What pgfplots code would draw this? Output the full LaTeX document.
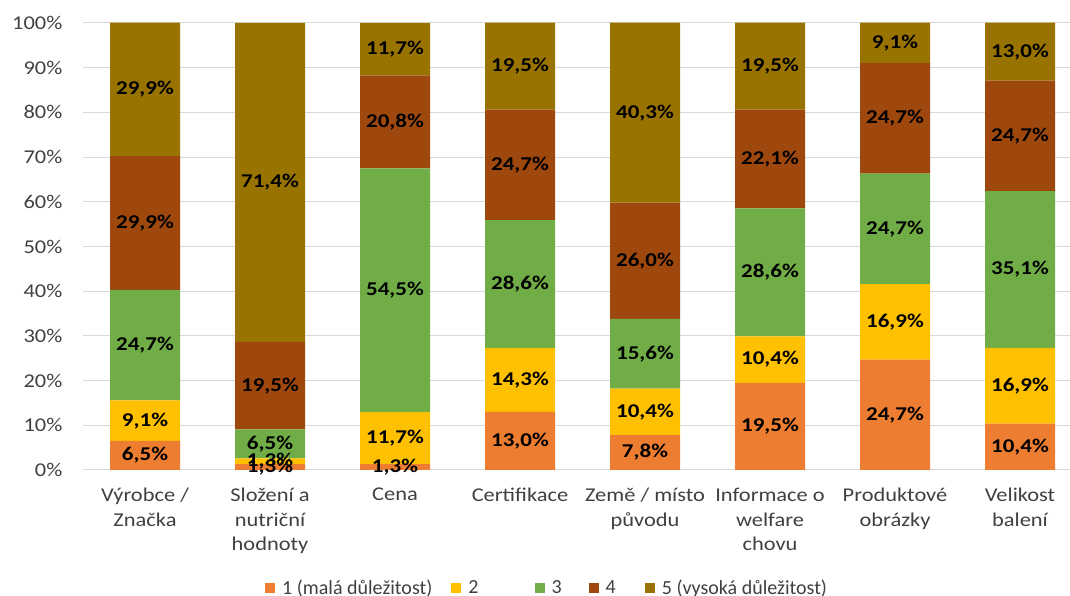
\documentclass[border=0pt]{standalone}
\usepackage{pgfplots}
\pgfplotsset{compat=1.18}
\usepackage{pgfplotstable}
\usepackage{fontspec}
\setmainfont{Carlito}[FakeStretch=1.15]
\newfontfamily\labfont{Carlito}[FakeStretch=1.18]
\newfontfamily\legfont{Carlito}
\definecolor{c1}{HTML}{ED7D31}
\definecolor{c2}{HTML}{FFC000}
\definecolor{c3}{HTML}{70AD47}
\definecolor{c4}{HTML}{9E480E}
\definecolor{c5}{HTML}{997300}
\definecolor{gridgray}{HTML}{D9D9D9}
\definecolor{tickgray}{HTML}{404040}
\newcommand\chartfont{\fontsize{19.5}{24.5}\selectfont}
\pgfplotstableread{
x a b c d e
0 6.5 9.1 24.7 29.9 29.9
1 1.3 1.3 6.5 19.5 71.4
2 1.3 11.7 54.5 20.8 11.7
3 13.0 14.3 28.6 24.7 19.5
4 7.8 10.4 15.6 26.0 40.3
5 19.5 10.4 28.6 22.1 19.5
6 24.7 16.9 24.7 24.7 9.1
7 10.4 16.9 35.1 24.7 13.0
}\data
\begin{document}
\begin{tikzpicture}
\begin{axis}[
  at={(82.5pt,126pt)}, anchor=south west,
  x=125pt, y=4.47pt,
  xmin=-0.5, xmax=7.5,
  ymin=0, ymax=100.15,
  ybar stacked, bar width=70pt,
  axis line style={draw=none},
  ymajorgrids, grid style={draw=gridgray, line width=1pt},
  major tick length=0pt,
  ytick={0,10,...,100},
  yticklabels={0\%,10\%,20\%,30\%,40\%,50\%,60\%,70\%,80\%,90\%,100\%},
  yticklabel style={font=\chartfont, text=tickgray, anchor=east, inner sep=0pt, xshift=-20pt},
  xtick={0,...,7},
  xticklabels={{Výrobce /\\Značka},{Složení a\\nutriční\\hodnoty},{Cena},{Certifikace},{Země / místo\\původu},{Informace o\\welfare\\chovu},{Produktové\\obrázky},{Velikost\\balení}},
  xticklabel style={font=\chartfont, text=tickgray, align=center, anchor=north, inner sep=0pt, yshift=-18pt},
  /pgf/number format/assume math mode=true,
  lab/.style={visualization depends on={\thisrow{#1}\as\val}},
  nodes near coords={\pgfmathprintnumber[fixed,fixed zerofill,precision=1,use comma]{\val}\%},
  every node near coord/.append style={font=\labfont\chartfont\bfseries, text=black, anchor=center, inner sep=0pt},
  legend columns=5,
  legend style={at={(0.1825,-0.264)}, anchor=west, draw=none, fill=none, font=\legfont\fontsize{20}{24}\selectfont, text=tickgray, inner sep=0pt,
    nodes={inner sep=0pt},
    /tikz/every odd column/.append style={column sep=7pt},
    /tikz/column 2/.style={column sep=19pt},
    /tikz/column 4/.style={column sep=56pt},
    /tikz/column 6/.style={column sep=27pt},
    /tikz/column 8/.style={column sep=29pt}},
  legend image code/.code={\fill[#1,draw=none] (0pt,-5pt) rectangle (10pt,5pt);},
]
\addplot[fill=c1, draw=none, lab=a] table[x=x,y=a]{\data};
\addlegendentry{1 (malá důležitost)}
\addplot[fill=c2, draw=none, lab=b] table[x=x,y=b]{\data};
\addlegendentry{2}
\addplot[fill=c3, draw=none, lab=c] table[x=x,y=c]{\data};
\addlegendentry{3}
\addplot[fill=c4, draw=none, lab=d] table[x=x,y=d]{\data};
\addlegendentry{4}
\addplot[fill=c5, draw=none, lab=e] table[x=x,y=e]{\data};
\addlegendentry{5 (vysoká důležitost)}
\end{axis}
\pgfresetboundingbox
\path (0,0) rectangle (1070pt,596pt);
\end{tikzpicture}
\end{document}
